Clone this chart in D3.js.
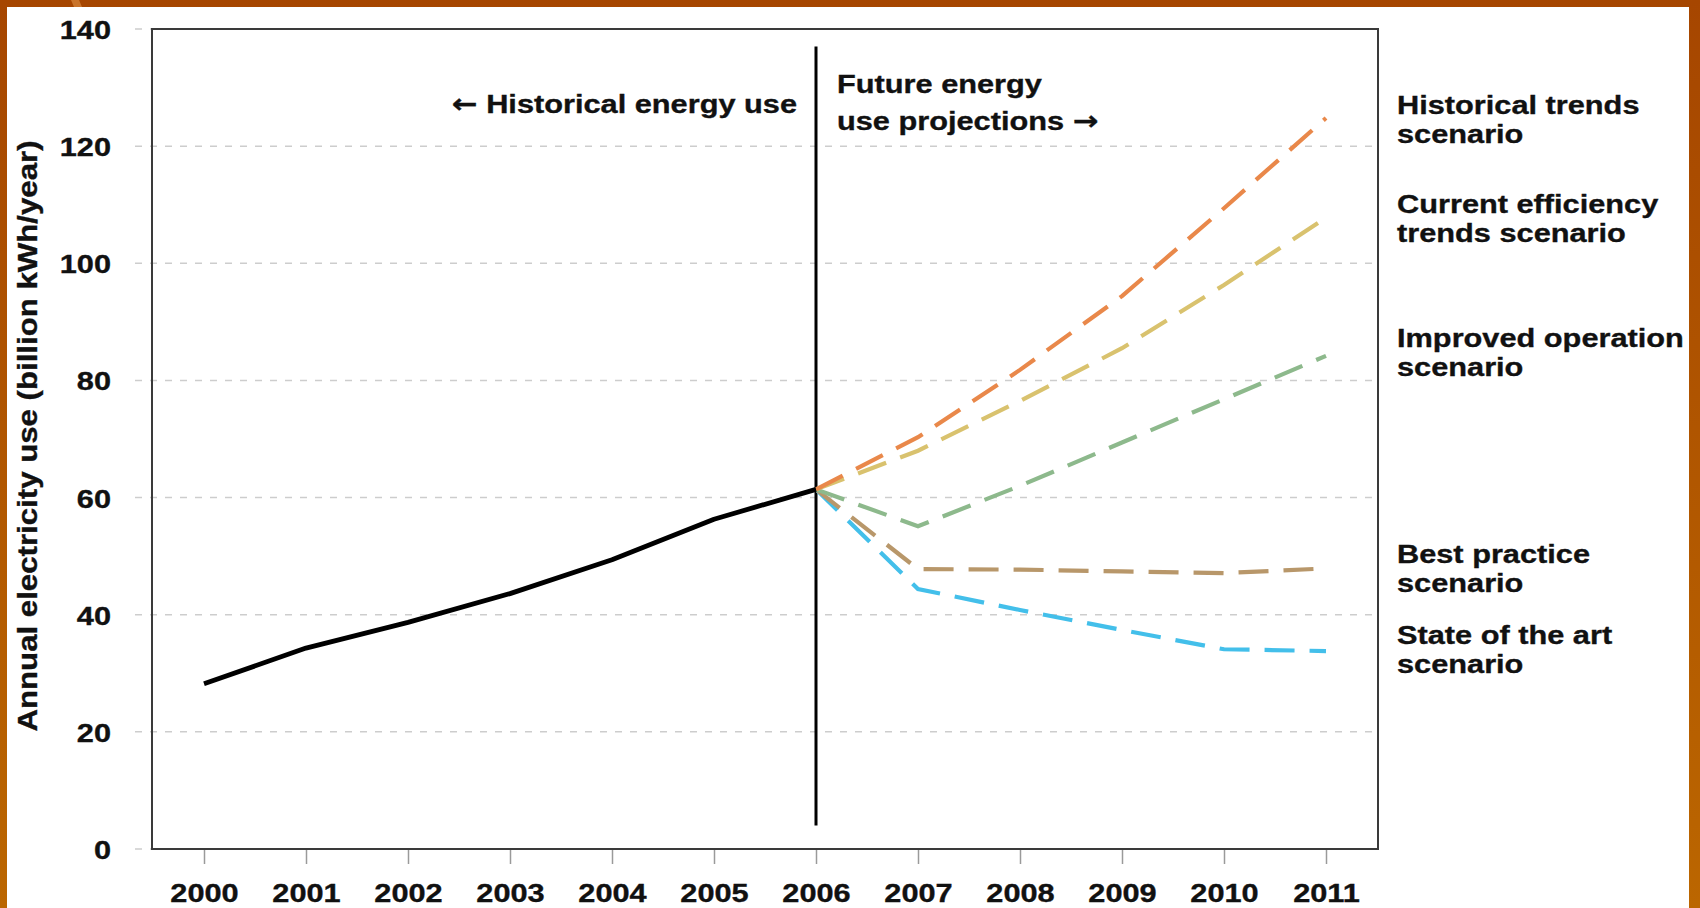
<!DOCTYPE html>
<html>
<head>
<meta charset="utf-8">
<script src="https://cdn.jsdelivr.net/npm/d3@7"></script>
<style>
  html, body { margin: 0; padding: 0; background: #fff; }
  svg { display: block; }
  text { font-family: "Liberation Sans", Arial, Helvetica, sans-serif; font-weight: bold; fill: #111; stroke: #111; stroke-width: 0.35px; }
  .arrow { font-family: "DejaVu Sans", sans-serif; font-weight: bold; }
</style>
</head>
<body>
<svg id="chart" width="1700" height="908"></svg>
<script>
// ---- data ----
const years = [2000, 2001, 2002, 2003, 2004, 2005, 2006, 2007, 2008, 2009, 2010, 2011];
const histYears = [2000, 2001, 2002, 2003, 2004, 2005, 2006];
const historical = [28.2, 34.3, 38.7, 43.6, 49.4, 56.3, 61.4];
const projYears = [2006, 2007, 2008, 2009, 2010, 2011];
const historicalTrends = [61.4, 70.3, 81.8, 94.4, 109.4, 124.8];
const currentEfficiency = [61.4, 68.0, 76.5, 85.5, 96.3, 107.8];
const improvedOperation = [61.4, 55.1, 62.0, 69.4, 76.8, 84.2];
const bestPractice = [61.4, 47.8, 47.7, 47.4, 47.1, 47.9];
const stateOfTheArt = [61.4, 44.4, 40.8, 37.4, 34.1, 33.8];
const yTicks = [0, 20, 40, 60, 80, 100, 120, 140];
const scenarioNames = [
  ["Historical trends", "scenario"],
  ["Current efficiency", "trends scenario"],
  ["Improved operation", "scenario"],
  ["Best practice", "scenario"],
  ["State of the art", "scenario"]
];
const scenarioColors = ["#e9884a", "#d9c26e", "#8db98c", "#b8976a", "#43bfea"];
const yTitle = "Annual electricity use (billion kWh/year)";
const leftNote = ["\u2190", " Historical energy use"];
const rightNote = ["Future energy", "use projections ", "\u2192"];
const dividerYear = 2006;
const dividerRange = [137, 4];

// ---- layout ----
const svg = d3.select("#chart");
const W = 1700, H = 908;
const plot = { left: 153, right: 1377, top: 29, bottom: 849 };
const SX = 1.16;       // horizontal stretch of lettering
const FS = 26.5;

const x = d3.scaleLinear().domain([1999.5, 2011.5]).range([plot.left, plot.right]);
const y = d3.scaleLinear().domain([0, 140]).range([plot.bottom, plot.top]);

// frame (slide border)
const defs = svg.append("defs");
const grad = defs.append("linearGradient").attr("id", "frameGrad")
  .attr("x1", 0).attr("y1", 0).attr("x2", 0).attr("y2", 1);
grad.append("stop").attr("offset", "0%").attr("stop-color", "#a64600");
grad.append("stop").attr("offset", "100%").attr("stop-color", "#bb6600");
svg.append("rect").attr("x", 0).attr("y", 0).attr("width", W).attr("height", H).attr("fill", "url(#frameGrad)");
svg.append("rect").attr("x", 7).attr("y", 7).attr("width", 1689 - 7).attr("height", H - 7).attr("fill", "#fff");
svg.append("path").attr("d", "M71,0 L79,0 L82,7 L74,7 Z").attr("fill", "#c9742a");

// gridlines
svg.append("g").selectAll("line").data(yTicks).join("line")
  .attr("x1", 135).attr("x2", plot.right - 2)
  .attr("y1", d => y(d)).attr("y2", d => y(d))
  .attr("stroke", "#cdcdcd").attr("stroke-width", 1.5)
  .attr("stroke-dasharray", "7,8");

// x axis ticks & labels via d3.axisBottom
const xAxis = d3.axisBottom(x).tickValues(years).tickFormat(d3.format("d")).tickSize(15).tickPadding(0);
const gx = svg.append("g").attr("transform", `translate(0,${plot.bottom})`).call(xAxis);
gx.select(".domain").remove();
gx.selectAll(".tick line").attr("stroke", "#9a9a9a").attr("stroke-width", 1.5);
gx.selectAll(".tick text").attr("y", 0).attr("dy", 0)
  .attr("transform", `translate(0,53) scale(${SX},1)`)
  .style("font-size", FS + "px").attr("fill", "#111");

// y axis labels via d3.axisLeft
const yAxis = d3.axisLeft(y).tickValues(yTicks).tickSize(0).tickPadding(0);
const gy = svg.append("g").attr("transform", `translate(111,0)`).call(yAxis);
gy.select(".domain").remove();
gy.selectAll(".tick text").attr("x", 0).attr("dy", 0)
  .attr("transform", `translate(0,9.5) scale(${SX},1)`)
  .style("font-size", FS + "px").attr("fill", "#111");

// plot box
svg.append("rect").attr("x", plot.left - 1).attr("y", plot.top).attr("width", plot.right - plot.left + 2)
  .attr("height", plot.bottom - plot.top).attr("fill", "none").attr("stroke", "#3a3a3a").attr("stroke-width", 2);

// helper for stretched text (parts: [string, isArrow])
function label(px, py, parts, anchor, rot, size) {
  const g = svg.append("g").attr("transform", `translate(${px},${py})` + (rot ? ` rotate(${rot})` : ""));
  const t = g.append("text").attr("text-anchor", anchor).attr("transform", `scale(${SX},1)`)
    .style("font-size", (size || FS) + "px");
  parts.forEach(p => {
    const ts = t.append("tspan").text(p[0]);
    if (p[1]) ts.attr("class", "arrow");
  });
}

// y title
label(37, 436, [[yTitle]], "middle", -90, 26.9);

// divider line
svg.append("line").attr("x1", x(dividerYear)).attr("x2", x(dividerYear))
  .attr("y1", y(dividerRange[0])).attr("y2", y(dividerRange[1]))
  .attr("stroke", "#000").attr("stroke-width", 3);

// notes
label(797, 113, [[leftNote[0], true], [leftNote[1]]], "end");
label(837, 93, [[rightNote[0]]], "start");
label(837, 130, [[rightNote[1]], [rightNote[2], true]], "start");

// lines
const line = d3.line().x(d => x(d[0])).y(d => y(d[1]));
const scenarios = [historicalTrends, currentEfficiency, improvedOperation, bestPractice, stateOfTheArt];
scenarios.slice().reverse().forEach((vals, i) => {
  const idx = scenarios.length - 1 - i;
  svg.append("path").datum(projYears.map((yr, j) => [yr, vals[j]]))
    .attr("d", line).attr("fill", "none")
    .attr("stroke", scenarioColors[idx]).attr("stroke-width", 4.2)
    .attr("stroke-dasharray", "30,15");
});
svg.append("path").datum(histYears.map((yr, j) => [yr, historical[j]]))
  .attr("d", line).attr("fill", "none").attr("stroke", "#000").attr("stroke-width", 4.8)
  .attr("stroke-linejoin", "round");

// scenario labels
const labelBase = [114, 213, 347, 563, 644];
scenarioNames.forEach((lines, i) => {
  label(1397, labelBase[i], [[lines[0]]], "start");
  label(1397, labelBase[i] + 28.5, [[lines[1]]], "start");
});
</script>
</body>
</html>
